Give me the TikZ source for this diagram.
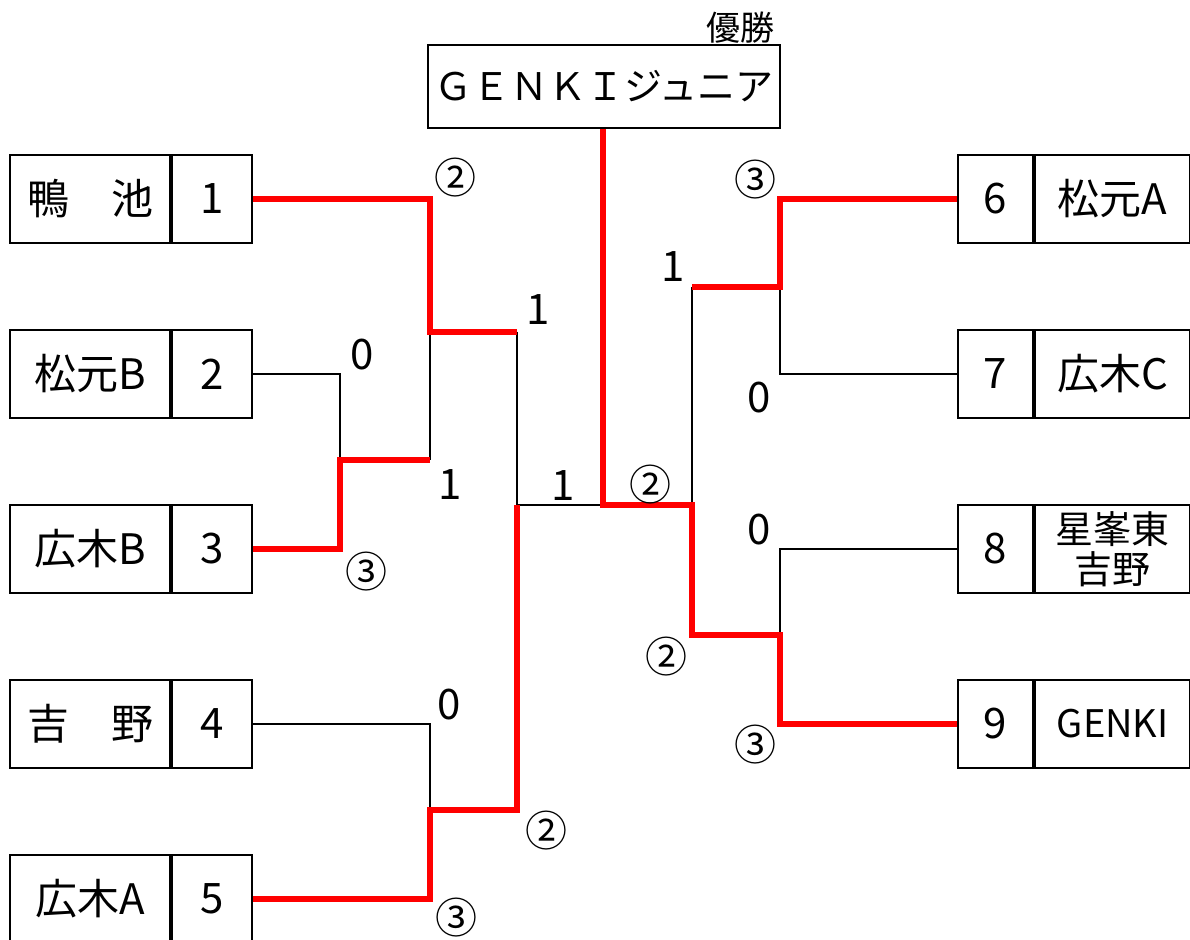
\documentclass[tikz,border=0pt]{standalone}
\usepackage{fontspec}
\setmainfont{Noto Sans CJK JP}
\usetikzlibrary{positioning}

\begin{document}
\begin{tikzpicture}
[
x=0.5pt, y=-0.5pt,
node distance=0pt and 0pt,
cell/.style={draw, line width=1.1pt, inner sep=0pt, minimum height=44pt, align=center, font=\fontsize{21pt}{24pt}\selectfont},
namecell/.style={cell, minimum width=80pt},
numcell/.style={cell, minimum width=40pt},
rnamecell/.style={cell, minimum width=77.5pt},
rnumcell/.style={cell, minimum width=37.5pt},
score/.style={inner sep=0pt, font=\fontsize{21pt}{24pt}\selectfont},
loseline/.style={line width=1pt},
winline/.style={red, line width=3pt},
]
\useasboundingbox (0,0) rectangle (1190,940);

% left teams
\node (t1) [namecell] at (90,199) {鴨　池};
\node (n1) [numcell, right=of t1] {1};
\node (t2) [namecell] at (90,374) {松元B};
\node (n2) [numcell, right=of t2] {2};
\node (t3) [namecell] at (90,549) {広木B};
\node (n3) [numcell, right=of t3] {3};
\node (t4) [namecell] at (90,724) {吉　野};
\node (n4) [numcell, right=of t4] {4};
\node (t5) [namecell] at (90,899) {広木A};
\node (n5) [numcell, right=of t5] {5};

% right teams
\node (n6) [rnumcell] at (995.5,199) {6};
\node (t6) [rnamecell, right=of n6] {松元A};
\node (n7) [rnumcell] at (995.5,374) {7};
\node (t7) [rnamecell, right=of n7] {広木C};
\node (n8) [rnumcell] at (995.5,549) {8};
\node (t8) [rnamecell, right=of n8, font=\fontsize{19pt}{20pt}\selectfont] {星峯東\\吉野};
\node (n9) [rnumcell] at (995.5,724) {9};
\node (t9) [rnamecell, right=of n9, font=\fontsize{19pt}{22pt}\selectfont] {GENKI};

% champion
\node (champ) [cell, minimum width=176pt, minimum height=41.5pt, font=\fontsize{19pt}{22pt}\selectfont] at (604,86.5) {ＧＥＮＫＩジュニア};
\node (win) [score, font=\fontsize{17pt}{20pt}\selectfont] at (740,28) {優勝};

% match points
\coordinate (m23) at (340,460);
\coordinate (m1) at (430,332);
\coordinate (m45) at (430,810);
\coordinate (mL) at (517,505);
\coordinate (fin) at (603,505);
\coordinate (mR) at (692,505);
\coordinate (m67) at (780,287);
\coordinate (m89) at (780,635);

% losing lines
\draw [loseline] (n2.east) -| (m23);
\draw [loseline] (m23 -| m1) -- (m1);
\draw [loseline] (m1 -| mL) -- (mL) -- (fin);
\draw [loseline] (n4.east) -| (m45);
\draw [loseline] (mR) -- (mR |- m67);
\draw [loseline] (n7.west) -| (m67);
\draw [loseline] (n8.west) -| (m89);

% winning lines
\draw [winline] (n3.east) -| (m23) -- (m23 -| m1);
\draw [winline] (n1.east) -| (m1) -- (m1 -| mL);
\draw [winline] (n5.east) -| (m45) -- (m45 -| mL) -- (mL);
\draw [winline] (n6.west) -| (m67) -- (m67 -| mR);
\draw [winline] (fin |- champ.south) -- (fin) -- (mR) |- (m89) |- (n9.west);

% scores
\node (s1) [score] at (455,178) {②};
\node (s2) [score] at (362,355) {0};
\node (s23) [score] at (450,485) {1};
\node (s3) [score] at (366,572) {③};
\node (s1b) [score] at (538,310) {1};
\node (sL) [score] at (563,486) {1};
\node (sR) [score] at (650,485) {②};
\node (s4) [score] at (449,705) {0};
\node (s45) [score] at (546,831) {②};
\node (s5) [score] at (456,918) {③};
\node (s6) [score] at (755,180) {③};
\node (s67) [score] at (673,267) {1};
\node (s7) [score] at (759,398) {0};
\node (s8) [score] at (759,530) {0};
\node (s89) [score] at (666,657) {②};
\node (s9) [score] at (755,745) {③};
\end{tikzpicture}
\end{document}
